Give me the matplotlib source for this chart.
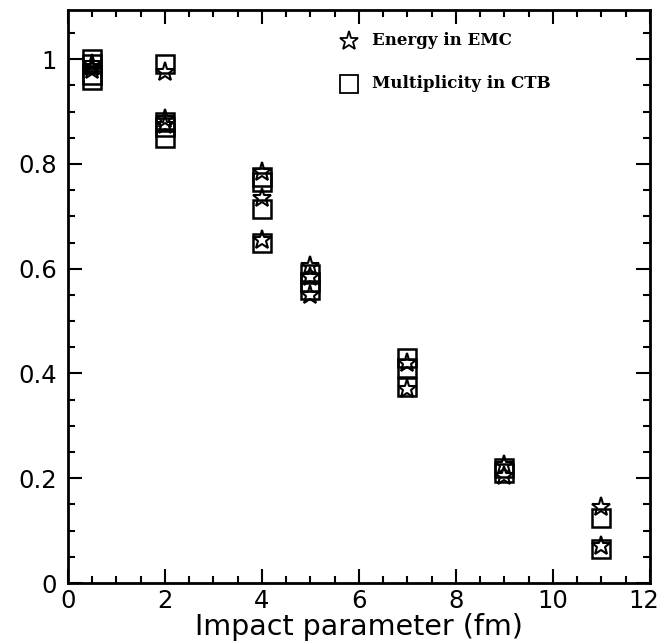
import matplotlib
matplotlib.use("Agg")
import matplotlib.pyplot as plt
import matplotlib.transforms as mtransforms
from matplotlib.ticker import MultipleLocator

# Data
star_x = [0.5, 0.5, 0.5, 2, 2, 2, 4, 4, 4, 5, 5, 5, 7, 7, 9, 9, 11, 11]
star_y = [0.99, 0.985, 0.98, 0.975, 0.885, 0.875, 0.785, 0.735, 0.655,
          0.605, 0.585, 0.55, 0.42, 0.37, 0.225, 0.205, 0.145, 0.07]
sq_x = [0.5, 0.5, 0.5, 0.5, 2, 2, 2, 2, 4, 4, 4, 4, 5, 5, 5, 7, 7, 7, 9, 9, 11, 11]
sq_y = [1.0, 0.99, 0.97, 0.96, 0.99, 0.88, 0.87, 0.85, 0.775, 0.765, 0.715, 0.65,
        0.59, 0.575, 0.56, 0.43, 0.41, 0.375, 0.22, 0.21, 0.125, 0.065]
x_ticks = [0, 2, 4, 6, 8, 10, 12]
x_ticklabels = ["0", "2", "4", "6", "8", "10", "12"]
y_ticks = [0, 0.2, 0.4, 0.6, 0.8, 1.0]
y_ticklabels = ["0", "0.2", "0.4", "0.6", "0.8", "1"]
xlabel = "Impact parameter (fm)"
legend_labels = ["Energy in EMC", "Multiplicity in CTB"]

fig = plt.figure(figsize=(6.61, 6.42), dpi=100)
ax = fig.add_axes([0.1029, 0.0919, 0.8801, 0.8925])

ax.plot(sq_x, sq_y, linestyle="none", marker="s", markersize=12.5,
        markerfacecolor="none", markeredgecolor="black", markeredgewidth=1.8)
ax.plot(star_x, star_y, linestyle="none", marker="*", markersize=14,
        markerfacecolor="none", markeredgecolor="black", markeredgewidth=1.5)

ax.set_xlim(0, 12)
ax.set_ylim(0, 1.094)
ax.set_xticks(x_ticks)
ax.set_xticklabels(x_ticklabels)
ax.set_yticks(y_ticks)
ax.set_yticklabels(y_ticklabels)
ax.xaxis.set_minor_locator(MultipleLocator(0.5))
ax.yaxis.set_minor_locator(MultipleLocator(0.05))
ax.tick_params(which="both", direction="in", top=True, right=True, width=1.5)
ax.tick_params(which="major", length=10, labelsize=17.5)
ax.tick_params(axis="y", which="major", pad=8)
ax.tick_params(axis="x", which="major", pad=4)
ax.tick_params(which="minor", length=5)
for s in ax.spines.values():
    s.set_linewidth(2)
ax.set_xlabel(xlabel, fontsize=20.5, labelpad=0)

# nudge the last x tick label so it stays inside the figure
lbl = ax.get_xticklabels()[-1]
lbl.set_transform(lbl.get_transform() +
                  mtransforms.ScaledTranslation(-6 / 100, 0, fig.dpi_scale_trans))

# Legend drawn manually in axes coordinates
ax.plot([0.483], [0.946], transform=ax.transAxes, linestyle="none", marker="*",
        markersize=14, markerfacecolor="none", markeredgecolor="black",
        markeredgewidth=1.3, clip_on=False)
ax.text(0.523, 0.946, legend_labels[0], transform=ax.transAxes, fontsize=12,
        family="DejaVu Serif", fontweight="bold", va="center", ha="left")
ax.plot([0.483], [0.871], transform=ax.transAxes, linestyle="none", marker="s",
        markersize=12.5, markerfacecolor="none", markeredgecolor="black",
        markeredgewidth=1.3, clip_on=False)
ax.text(0.523, 0.871, legend_labels[1], transform=ax.transAxes, fontsize=12,
        family="DejaVu Serif", fontweight="bold", va="center", ha="left")

fig.savefig("out.png", dpi=100)
